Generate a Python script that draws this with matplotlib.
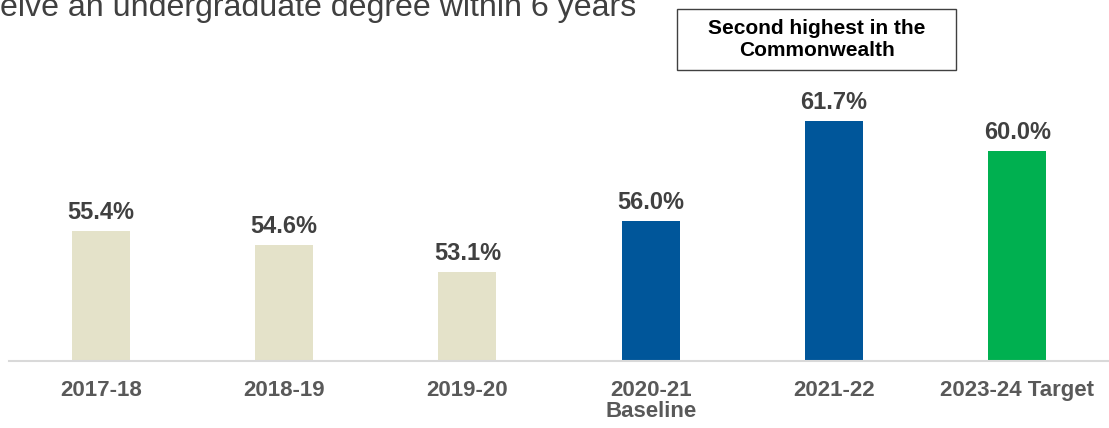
import matplotlib
matplotlib.use('Agg')
import matplotlib.pyplot as plt
from matplotlib.patches import Rectangle

plt.rcParams['font.family'] = ['Liberation Sans', 'DejaVu Sans']

# Data
categories = ['2017-18', '2018-19', '2019-20', '2020-21\nBaseline', '2021-22', '2023-24 Target']
values = [55.4, 54.6, 53.1, 56.0, 61.7, 60.0]
colors = ['#E4E2C9', '#E4E2C9', '#E4E2C9', '#00569A', '#00569A', '#00B050']
title_text = 'eive an undergraduate degree within 6 years'
note_text = 'Second highest in the\nCommonwealth'

W, H = 1109, 428
fig = plt.figure(figsize=(W / 100, H / 100), dpi=100)
ax = fig.add_axes([9 / W, (H - 361) / H, 1 - 9 / W, (361 - 63.2) / H])

x = list(range(len(categories)))
ax.bar(x, values, width=0.316, color=colors, bottom=0)
ax.set_xlim(-0.5, len(categories) - 0.5)
ax.set_ylim(48, 65)

for xi, v in zip(x, values):
    ax.annotate(f'{v:.1f}%', (xi, v), xytext=(0, 5), textcoords='offset points',
                ha='center', va='bottom', fontsize=17, fontweight='bold', color='#404040')

ax.set_xticks(x)
ax.set_xticklabels(categories, fontsize=16, fontweight='bold', color='#595959',
                   linespacing=1.0)
ax.tick_params(axis='x', length=0, pad=14)
ax.set_yticks([])
for side in ['left', 'right', 'top']:
    ax.spines[side].set_visible(False)
ax.spines['bottom'].set_color('#D9D9D9')
ax.spines['bottom'].set_linewidth(1.5)

# Title, its top cut off by the figure edge as in the source
fig.text(0, (H - 16) / H, title_text, ha='left', va='baseline', fontsize=23.1, color='#404040')

# Note box
fig.patches.append(Rectangle((677 / W, (H - 70) / H), (956 - 677) / W, 61 / H,
                             transform=fig.transFigure, facecolor='white',
                             edgecolor='#404040', linewidth=1.0))
fig.text(816.5 / W, (H - 39) / H, note_text, ha='center', va='center', fontsize=15,
         fontweight='bold', color='black', linespacing=1.2)

fig.savefig('out.png', dpi=100)
